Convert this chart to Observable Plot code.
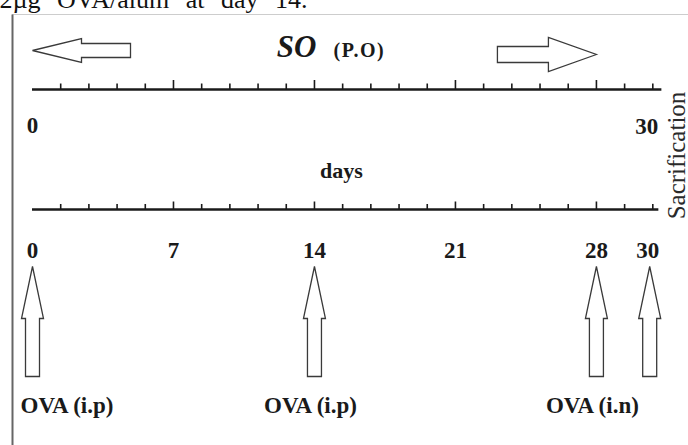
<!DOCTYPE html>
<html>
<head>
<meta charset="utf-8">
<script src="https://cdn.jsdelivr.net/npm/d3@7"></script>
<script src="https://cdn.jsdelivr.net/npm/@observablehq/plot@0.6"></script>
<style>
  html, body { margin: 0; padding: 0; background: #fff; }
  svg { overflow: hidden; }
</style>
</head>
<body>
<div id="chart"></div>
<script>
// ---- data ----
const captionText = ["2µg OVA/alum at day 14."];
const treatmentName = ["SO"];
const treatmentRoute = ["(P.O)"];
const axisTitle = ["days"];
const rangeDays = [0, 30];
const dayLabels = [0, 7, 14, 21, 28, 30];
const rulerTicks = [1.4, 2.8, 4.2, 5.6, 7, 8.4, 9.8, 11.2, 12.6, 14, 15.4, 16.8, 18.2, 19.6, 21, 22.4, 23.8, 25.2, 26.6, 28, 29.4, 30.8];
const majorTicks = [7, 14, 21, 28];
const ovaDays = [0, 14, 28];
const ovaRoutes = ["OVA (i.p)", "OVA (i.p)", "OVA (i.n)"];
const sacrificeDays = [30];
const sacrificeLabel = ["Sacrification"];
const soArrowLeftDays = [0];
const soArrowRightDays = [28];
const topRulerEnd = [31.25];
const bottomRulerEnd = [31.1];

// ---- block arrow symbols (tip at origin) ----
function blockArrow(dir, headLen, headHalf, bodyHalf, bodyLen) {
  const pts = [[0, 0], [headHalf, headLen], [bodyHalf, headLen], [bodyHalf, headLen + bodyLen],
               [-bodyHalf, headLen + bodyLen], [-bodyHalf, headLen], [-headHalf, headLen]];
  const map = {up: ([a, b]) => [a, b], left: ([a, b]) => [b, a], right: ([a, b]) => [-b, a]};
  return {
    draw(ctx) {
      const p = pts.map(map[dir]);
      ctx.moveTo(p[0][0], p[0][1]);
      for (let i = 1; i < p.length; ++i) ctx.lineTo(p[i][0], p[i][1]);
      ctx.closePath();
    }
  };
}
const arrowUp = blockArrow("up", 52, 11, 7, 58);
const arrowLeft = blockArrow("left", 49, 12, 7, 49);
const arrowRight = blockArrow("right", 48, 17, 8, 51);

const ink = "#1a1a1a";
const serif = "'Liberation Serif', 'Times New Roman', Times, serif";
const arrowStyle = {fill: "white", stroke: "#3a3a3a", strokeWidth: 1.3};
const labelStyle = {fontFamily: serif, fontSize: 23, fontWeight: "bold", fill: ink, lineAnchor: "bottom"};

const plot = Plot.plot({
  width: 688,
  height: 445,
  margin: 0,
  x: {domain: [0, 30], range: [32, 636.2], axis: null},
  y: {domain: [0, 445], range: [0, 445], axis: null},
  style: {fontFamily: serif, background: "#fff", color: ink},
  marks: [
    // page frame
    Plot.frame({stroke: "#cdcdcd", strokeWidth: 1, insetLeft: 12, insetTop: 14, insetRight: -4, insetBottom: -4}),
    Plot.frame({fill: "#666", stroke: null, insetLeft: 11, insetRight: 675, insetTop: 14, insetBottom: -2}),

    // cropped caption from the surrounding text
    Plot.text(captionText, {frameAnchor: "left", y: () => 7, dx: -1, textAnchor: "start", lineAnchor: "bottom", fontFamily: serif, fontSize: 26, fill: "#111"}),

    // SO (P.O) treatment with duration arrows
    Plot.dot(soArrowLeftDays, {x: d => d, y: () => 50, symbol: arrowLeft, ...arrowStyle}),
    Plot.dot(soArrowRightDays, {x: d => d, y: () => 54, symbol: arrowRight, ...arrowStyle}),
    Plot.text(treatmentName, {frameAnchor: "middle", y: () => 56, dx: -28, textAnchor: "end", lineAnchor: "bottom", fontFamily: serif, fontSize: 31, fontStyle: "italic", fontWeight: "bold", fill: ink}),
    Plot.text(treatmentRoute, {frameAnchor: "middle", y: () => 56, dx: -11, textAnchor: "start", lineAnchor: "bottom", fontFamily: serif, fontSize: 20, fontWeight: "bold", fill: ink}),

    // top ruler
    Plot.ruleY(topRulerEnd, {x1: () => 0, x2: d => d, y: () => 89, stroke: ink, strokeWidth: 2.6}),
    Plot.ruleX(rulerTicks, {x: d => d, y1: d => majorTicks.includes(d) ? 80 : 83.5, y2: () => 89, stroke: ink, strokeWidth: 1.6}),
    Plot.text(rangeDays, {filter: d => d < 30, x: d => d, y: () => 132, text: d => String(d), ...labelStyle}),
    Plot.text(rangeDays, {filter: d => d === 30, x: d => d, y: () => 133, dx: 10, text: d => String(d), ...labelStyle}),

    // axis title
    Plot.text(axisTitle, {frameAnchor: "middle", y: () => 177, dx: -3, ...labelStyle, fontSize: 22}),

    // bottom ruler
    Plot.ruleY(bottomRulerEnd, {x1: () => 0, x2: d => d, y: () => 209, stroke: ink, strokeWidth: 2.6}),
    Plot.ruleX(rulerTicks, {x: d => d, y1: d => majorTicks.includes(d) ? 201.5 : 204, y2: () => 209, stroke: ink, strokeWidth: 1.6}),
    Plot.text(dayLabels, {filter: d => d < 30, x: d => d, y: () => 257, text: d => String(d), ...labelStyle}),
    Plot.text(dayLabels, {filter: d => d === 30, x: d => d, y: () => 257, dx: 11, text: d => String(d), ...labelStyle}),

    // OVA administration arrows
    Plot.dot(ovaDays, {x: d => d, y: () => 266, symbol: arrowUp, ...arrowStyle}),
    Plot.dot(sacrificeDays, {x: d => d, y: () => 266, dx: 13, symbol: arrowUp, ...arrowStyle}),
    Plot.text(ovaRoutes, {filter: (d, i) => i === 0, x: (d, i) => ovaDays[i], y: () => 412, dx: -12, textAnchor: "start", text: d => d, ...labelStyle}),
    Plot.text(ovaRoutes, {filter: (d, i) => i > 0, x: (d, i) => ovaDays[i], y: () => 412, dx: -4, text: d => d, ...labelStyle}),

    // sacrifice label
    Plot.text(sacrificeLabel, {frameAnchor: "right", y: () => 155, dx: -4, rotate: -90, textAnchor: "middle", lineAnchor: "bottom", fontFamily: serif, fontSize: 25, fill: "#2a2a2a"})
  ]
});

// fine typographic spacing
d3.select(plot).selectAll("text").each(function () {
  const t = this.textContent;
  if (t === captionText[0]) this.setAttribute("word-spacing", "10");
  if (t === treatmentRoute[0]) this.setAttribute("letter-spacing", "1.5");
});

document.getElementById("chart").appendChild(plot);
</script>
</body>
</html>
